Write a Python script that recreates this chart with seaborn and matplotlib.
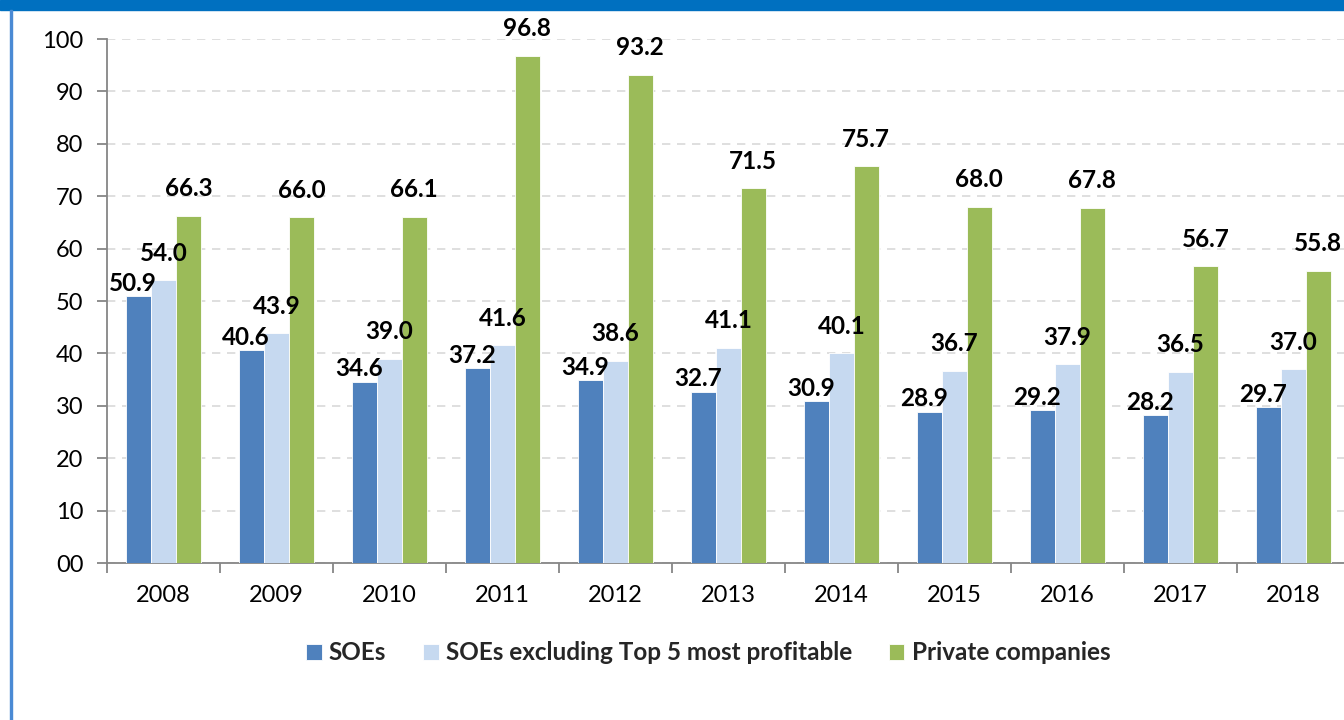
import matplotlib
matplotlib.use("Agg")
import matplotlib.pyplot as plt
from matplotlib.patches import Rectangle
from matplotlib.ticker import FixedLocator, FuncFormatter
import pandas as pd
import seaborn as sns

years = ["2008", "2009", "2010", "2011", "2012", "2013", "2014", "2015", "2016", "2017", "2018"]
soes = [50.9, 40.6, 34.6, 37.2, 34.9, 32.7, 30.9, 28.9, 29.2, 28.2, 29.7]
soes_ex_top5 = [54.0, 43.9, 39.0, 41.6, 38.6, 41.1, 40.1, 36.7, 37.9, 36.5, 37.0]
private = [66.3, 66.0, 66.1, 96.8, 93.2, 71.5, 75.7, 68.0, 67.8, 56.7, 55.8]

series_names = ["SOEs", "SOEs excluding Top 5 most profitable", "Private companies"]
colors = ["#4F81BD", "#C6D9F0", "#9BBB59"]

# long table for seaborn
df = pd.DataFrame({
    "year": years * 3,
    "value": soes + soes_ex_top5 + private,
    "series": [series_names[0]] * len(years) + [series_names[1]] * len(years) + [series_names[2]] * len(years),
})

sns.set_theme(style="white")
plt.rcParams["font.family"] = ["Lato", "DejaVu Sans"]

fig = plt.figure(figsize=(13.44, 7.2), dpi=100)
ax = fig.add_axes([107 / 1344, 1 - 563 / 720, 1243 / 1344, 524 / 720])

sns.barplot(data=df, x="year", y="value", hue="series", hue_order=series_names,
            palette=colors, saturation=1, width=0.66, gap=0, edgecolor="white", linewidth=0.6,
            errorbar=None, legend=True, ax=ax, zorder=3)

ax.set_xlim(-0.5, len(years) - 0.5)
ax.set_ylim(0, 100)
ax.set_xlabel("")
ax.set_ylabel("")

# y axis: ticks every 10, labelled "00", "10", ...
ax.yaxis.set_major_locator(FixedLocator(range(0, 101, 10)))
ax.yaxis.set_major_formatter(FuncFormatter(lambda v, p: f"{int(v):02d}"))
ax.grid(axis="y", color="#D9D9D9", linestyle=(0, (5, 4)), linewidth=1.2, zorder=0)
ax.set_axisbelow(True)

# x axis: labels at centres, tick marks between categories
ax.set_xticks(range(len(years)))
ax.set_xticklabels(years)
ax.set_xticks([i - 0.5 for i in range(len(years) + 1)], minor=True)
ax.tick_params(axis="x", which="major", length=0, pad=16, labelsize=17, colors="black")
ax.tick_params(axis="x", which="minor", length=7, width=1.3, color="#868686", direction="out", bottom=True)
ax.tick_params(axis="y", which="major", length=7, width=1.3, color="#868686", direction="out",
               left=True, pad=10, labelsize=17, labelcolor="black")

for side in ["top", "right"]:
    ax.spines[side].set_visible(False)
for side in ["left", "bottom"]:
    ax.spines[side].set_color("#868686")
    ax.spines[side].set_linewidth(1.3)

# value labels
offsets = [(-4, 1), (0, 11), (0, 11)]
for cont, off in zip(ax.containers, offsets):
    for bar in cont:
        h = bar.get_height()
        ax.annotate(f"{h:.1f}", (bar.get_x() + bar.get_width() / 2, h),
                    xytext=off, textcoords="offset points", ha="center", va="bottom",
                    fontsize=17.5, fontweight="bold", color="black", zorder=5)

# legend below
handles, labels = ax.get_legend_handles_labels()
ax.legend_.remove()
leg = fig.legend(handles, labels, loc="center", bbox_to_anchor=(708 / 1344, 1 - 653 / 720),
                 ncol=3, frameon=False, handlelength=0.65, handleheight=0.65,
                 handletextpad=0.3, columnspacing=1.5,
                 prop={"size": 17.5, "weight": "bold"})

# frame decorations: blue header band and left border
fig.patches.append(Rectangle((0, 1 - 10 / 720), 1, 10 / 720, transform=fig.transFigure,
                             color="#0070C0", zorder=10))
fig.patches.append(Rectangle((10 / 1344, 0), 2 / 1344, 1 - 10 / 720, transform=fig.transFigure,
                             color="#4A8AD4", zorder=10))

fig.savefig("out.png", dpi=100)
